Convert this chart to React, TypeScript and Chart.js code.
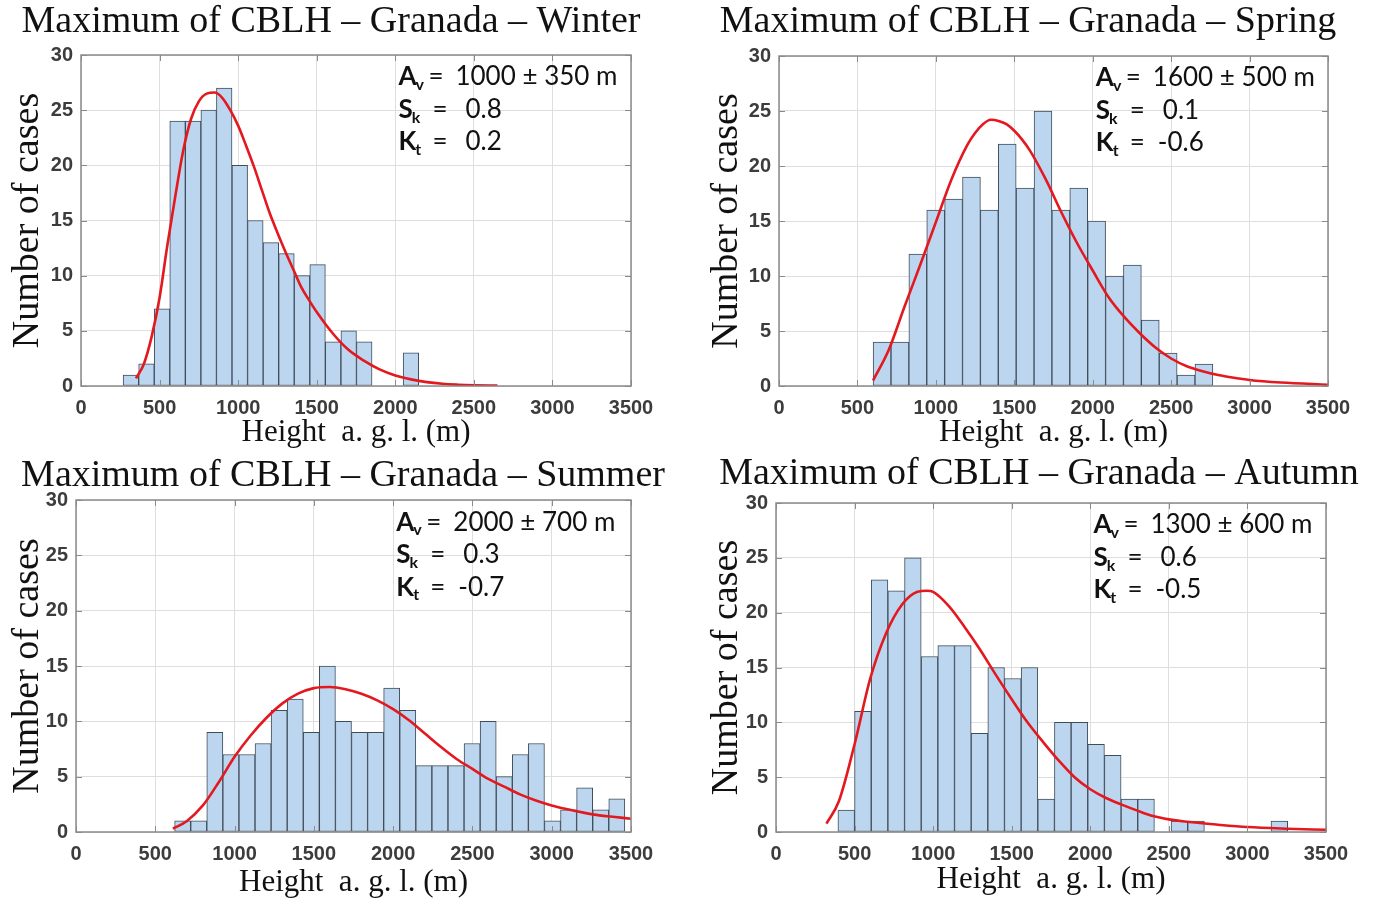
import React, { useEffect, useRef } from "react";
import { Chart, registerables } from "chart.js";

Chart.register(...registerables);

// ---------- shared axis settings ----------
const xTickValues = [0, 500, 1000, 1500, 2000, 2500, 3000, 3500];
const yTickValues = [0, 5, 10, 15, 20, 25, 30];
const statLabels = [["A", "v"], ["S", "k"], ["K", "t"]];
const xAxisTitle = "Height  a. g. l. (m)";
const yAxisTitle = "Number of cases";

// ---------- Winter ----------
const winterTitle = "Maximum of CBLH \u2013 Granada \u2013 Winter";
const winterBinStart = 268;
const winterBinWidth = 99;
const winterCounts = [1, 2, 7, 24, 24, 25, 27, 20, 15, 13, 12, 10, 11, 4, 5, 4, 0, 0, 3];
const winterFitX = [350, 400, 450, 500, 550, 600, 650, 700, 750, 800, 850, 900, 950, 1000, 1050, 1100, 1150, 1200, 1250, 1300, 1350, 1400, 1450, 1500, 1600, 1700, 1800, 1900, 2000, 2100, 2200, 2300, 2400, 2500, 2650];
const winterFitY = [0.7, 2.0, 4.5, 8.0, 12.8, 17.2, 21.3, 24.2, 25.8, 26.5, 26.6, 26.1, 25.0, 23.6, 21.8, 19.9, 17.8, 15.7, 13.9, 12.2, 10.6, 9.0, 7.8, 6.7, 4.8, 3.3, 2.3, 1.5, 0.95, 0.6, 0.35, 0.2, 0.12, 0.07, 0.03];
const winterStats = ["1000 \u00b1 350 m", "0.8", "0.2"];

// ---------- Spring ----------
const springTitle = "Maximum of CBLH \u2013 Granada \u2013 Spring";
const springBinStart = 600;
const springBinWidth = 114;
const springCounts = [4, 4, 12, 16, 17, 19, 16, 22, 18, 25, 16, 18, 15, 10, 11, 6, 3, 1, 2];
const springFitX = [600, 700, 800, 900, 1000, 1100, 1200, 1250, 1300, 1350, 1400, 1450, 1500, 1550, 1600, 1700, 1800, 1900, 2000, 2100, 2200, 2300, 2400, 2500, 2600, 2700, 2800, 2900, 3000, 3200, 3500];
const springFitY = [0.5, 3.3, 7.2, 11.0, 14.9, 18.8, 21.9, 23.0, 23.8, 24.2, 24.1, 23.8, 23.2, 22.4, 21.4, 18.8, 15.8, 13.0, 10.5, 8.1, 6.3, 4.8, 3.5, 2.5, 1.8, 1.35, 1.0, 0.75, 0.55, 0.32, 0.12];
const springStats = ["1600 \u00b1 500 m", "0.1", "-0.6"];

// ---------- Summer ----------
const summerTitle = "Maximum of CBLH \u2013 Granada \u2013 Summer";
const summerBinStart = 622;
const summerBinWidth = 101.4;
const summerCounts = [1, 1, 9, 7, 7, 8, 11, 12, 9, 15, 10, 9, 9, 13, 11, 6, 6, 6, 8, 10, 5, 7, 8, 1, 2, 4, 2, 3];
const summerFitX = [611, 700, 800, 900, 1000, 1100, 1200, 1300, 1400, 1500, 1600, 1700, 1800, 1900, 2000, 2100, 2200, 2300, 2400, 2500, 2600, 2700, 2800, 2900, 3000, 3100, 3200, 3300, 3400, 3500];
const summerFitY = [0.3, 1.0, 2.4, 4.5, 6.8, 8.7, 10.3, 11.6, 12.5, 13.0, 13.1, 12.9, 12.5, 11.9, 11.1, 10.1, 8.9, 7.7, 6.6, 5.7, 4.8, 4.1, 3.4, 2.85, 2.4, 2.05, 1.75, 1.5, 1.35, 1.2];
const summerStats = ["2000 \u00b1 700 m", "0.3", "-0.7"];

// ---------- Autumn ----------
const autumnTitle = "Maximum of CBLH \u2013 Granada \u2013 Autumn";
const autumnBinStart = 394;
const autumnBinWidth = 106;
const autumnCounts = [2, 11, 23, 22, 25, 16, 17, 17, 9, 15, 14, 15, 3, 10, 10, 8, 7, 3, 3, 0, 1, 1, 0, 0, 0, 0, 1];
const autumnFitX = [321, 400, 500, 600, 700, 800, 900, 960, 1000, 1100, 1200, 1300, 1400, 1500, 1600, 1700, 1800, 1900, 2000, 2100, 2200, 2300, 2400, 2500, 2600, 2800, 3000, 3250, 3500];
const autumnFitY = [0.76, 2.8, 8.0, 14.0, 18.1, 20.7, 21.9, 22.0, 21.9, 20.6, 18.7, 16.6, 14.3, 12.1, 10.0, 8.2, 6.5, 5.0, 3.9, 3.1, 2.5, 1.95, 1.45, 1.15, 0.95, 0.68, 0.45, 0.3, 0.2];
const autumnStats = ["1300 \u00b1 600 m", "0.6", "-0.5"];

// annotation anchor (data units)
const statX = 2020;
const statY = 28.0;

type Panel = {
  title: string;
  left: number; top: number; width: number; height: number;
  padTop: number; padRight: number; yAxisWidth: number; xAxisHeight: number;
  titleX: number; titleY: number; yTitlePad: number; xTitlePad: number;
  binStart: number; binWidth: number; counts: number[];
  fitX: number[]; fitY: number[]; stats: string[];
};

const panels: Panel[] = [
  {
    title: winterTitle, left: 0, top: 0, width: 688, height: 452,
    padTop: 55, padRight: 57, yAxisWidth: 81, xAxisHeight: 66,
    titleX: 331, titleY: 22, yTitlePad: 9, xTitlePad: 0.5,
    binStart: winterBinStart, binWidth: winterBinWidth, counts: winterCounts,
    fitX: winterFitX, fitY: winterFitY, stats: winterStats,
  },
  {
    title: springTitle, left: 688, top: 0, width: 689, height: 452,
    padTop: 56, padRight: 49, yAxisWidth: 91, xAxisHeight: 66,
    titleX: 340, titleY: 22, yTitlePad: 20, xTitlePad: 0.5,
    binStart: springBinStart, binWidth: springBinWidth, counts: springCounts,
    fitX: springFitX, fitY: springFitY, stats: springStats,
  },
  {
    title: summerTitle, left: 0, top: 452, width: 688, height: 453,
    padTop: 48, padRight: 57, yAxisWidth: 76, xAxisHeight: 73,
    titleX: 343, titleY: 24, yTitlePad: 9, xTitlePad: 3.5,
    binStart: summerBinStart, binWidth: summerBinWidth, counts: summerCounts,
    fitX: summerFitX, fitY: summerFitY, stats: summerStats,
  },
  {
    title: autumnTitle, left: 688, top: 452, width: 689, height: 453,
    padTop: 51, padRight: 51, yAxisWidth: 88, xAxisHeight: 73,
    titleX: 351, titleY: 22, yTitlePad: 20, xTitlePad: 7,
    binStart: autumnBinStart, binWidth: autumnBinWidth, counts: autumnCounts,
    fitX: autumnFitX, fitY: autumnFitY, stats: autumnStats,
  },
];

const decorPlugin = {
  id: "panelDecor",
  afterDatasetsDraw(chart: any, _args: any, opts: any) {
    const { ctx, chartArea } = chart;
    const xs = chart.scales.x;
    const ys = chart.scales.y;
    const { left, top, right, bottom } = chartArea;
    ctx.save();
    // box
    ctx.strokeStyle = "#8a8a8a";
    ctx.lineWidth = 1.5;
    ctx.strokeRect(left, top, right - left, bottom - top);
    // inward tick marks
    ctx.lineWidth = 1;
    ctx.beginPath();
    xTickValues.forEach((v) => {
      const px = Math.round(xs.getPixelForValue(v)) + 0.5;
      ctx.moveTo(px, bottom); ctx.lineTo(px, bottom - 6);
      ctx.moveTo(px, top); ctx.lineTo(px, top + 6);
    });
    yTickValues.forEach((v) => {
      const py = Math.round(ys.getPixelForValue(v)) + 0.5;
      ctx.moveTo(left, py); ctx.lineTo(left + 6, py);
      ctx.moveTo(right, py); ctx.lineTo(right - 6, py);
    });
    ctx.stroke();

    // statistics annotation
    const ax = xs.getPixelForValue(statX);
    const ay = ys.getPixelForValue(statY);
    ctx.fillStyle = "#111";
    ctx.textAlign = "left";
    ctx.textBaseline = "middle";
    (opts.stats as string[]).forEach((val, i) => {
      const y = ay + i * 32.5;
      const [main, sub] = statLabels[i];
      ctx.font = "bold 26px Lato";
      ctx.fillText(main, ax, y);
      const mw = ctx.measureText(main).width;
      ctx.font = "bold 16px Lato";
      ctx.fillText(sub, ax + mw - 1, y + 8);
      ctx.font = "26px Lato";
      ctx.fillText("=", ax + (i === 0 ? 30 : 34), y);
      const neg = val.startsWith("-");
      ctx.fillText(val, ax + (i === 0 ? 57 : neg ? 62 : 67), y);
    });

    // panel title
    ctx.font = "38px 'Liberation Serif'";
    ctx.textAlign = "center";
    ctx.fillStyle = "#111";
    ctx.fillText(opts.title, opts.titleX, opts.titleY);
    ctx.restore();
  },
};

function makeConfig(p: Panel): any {
  const bars = p.counts
    .map((c, i) => ({ x: p.binStart + p.binWidth * (i + 0.5), y: c }))
    .filter((d) => d.y > 0);
  const fit = p.fitX.map((x, i) => ({ x, y: p.fitY[i] }));
  const tickFont = { family: "'Liberation Sans', Arial, sans-serif", size: 20, weight: "bold" };
  return {
    type: "bar",
    data: {
      datasets: [
        {
          type: "line",
          data: fit,
          borderColor: "#e3191f",
          borderWidth: 2.6,
          pointRadius: 0,
          cubicInterpolationMode: "monotone",
          fill: false,
          order: 1,
        },
        {
          type: "bar",
          data: bars,
          backgroundColor: "#bdd6f0",
          borderColor: "#3f4c5a",
          borderWidth: 1,
          borderSkipped: false,
          barPercentage: 1,
          categoryPercentage: 1,
          order: 2,
        },
      ],
    },
    options: {
      responsive: false,
      animation: false,
      devicePixelRatio: 1,
      layout: { padding: { left: 0, top: p.padTop, right: p.padRight, bottom: 0 } },
      plugins: {
        legend: { display: false },
        tooltip: { enabled: false },
        title: { display: false },
        panelDecor: { title: p.title, titleX: p.titleX, titleY: p.titleY, stats: p.stats },
      },
      scales: {
        x: {
          type: "linear",
          min: 0,
          max: 3500,
          offset: false,
          afterBuildTicks: (scale: any) => {
            scale.ticks = xTickValues.map((v) => ({ value: v }));
          },
          afterFit: (scale: any) => {
            scale.height = p.xAxisHeight;
          },
          grid: { color: "#dedede", lineWidth: 1, drawTicks: false, offset: false },
          border: { display: false },
          ticks: {
            font: tickFont,
            color: "#3c3c3c",
            padding: 10,
            maxRotation: 0,
            autoSkip: false,
            callback: (v: any) => String(v),
          },
          title: {
            display: true,
            text: xAxisTitle,
            color: "#111",
            font: { family: "'Liberation Serif', serif", size: 31, lineHeight: 1.2 },
            padding: { top: 0, bottom: p.xTitlePad },
          },
        },
        y: {
          type: "linear",
          min: 0,
          max: 30,
          afterBuildTicks: (scale: any) => {
            scale.ticks = yTickValues.map((v) => ({ value: v }));
          },
          afterFit: (scale: any) => {
            scale.width = p.yAxisWidth;
          },
          grid: { color: "#dedede", lineWidth: 1, drawTicks: false },
          border: { display: false },
          ticks: { font: tickFont, color: "#3c3c3c", padding: 8, callback: (v: any) => String(v) },
          title: {
            display: true,
            text: yAxisTitle,
            color: "#111",
            font: { family: "'Liberation Serif', serif", size: 38, lineHeight: 1.0 },
            padding: { top: p.yTitlePad, bottom: 0 },
          },
        },
      },
    },
    plugins: [decorPlugin],
  };
}

function PanelChart({ panel }: { panel: Panel }) {
  const ref = useRef<HTMLCanvasElement | null>(null);
  useEffect(() => {
    if (!ref.current) return;
    const chart = new Chart(ref.current, makeConfig(panel));
    return () => chart.destroy();
  }, [panel]);
  return (
    <canvas
      ref={ref}
      width={panel.width}
      height={panel.height}
      style={{ position: "absolute", left: panel.left, top: panel.top, width: panel.width, height: panel.height }}
    />
  );
}

export default function App() {
  return (
    <div style={{ position: "absolute", left: 0, top: 0, width: 1377, height: 905, background: "#fff", overflow: "hidden" }}>
      {panels.map((p, i) => (
        <PanelChart key={i} panel={p} />
      ))}
    </div>
  );
}
